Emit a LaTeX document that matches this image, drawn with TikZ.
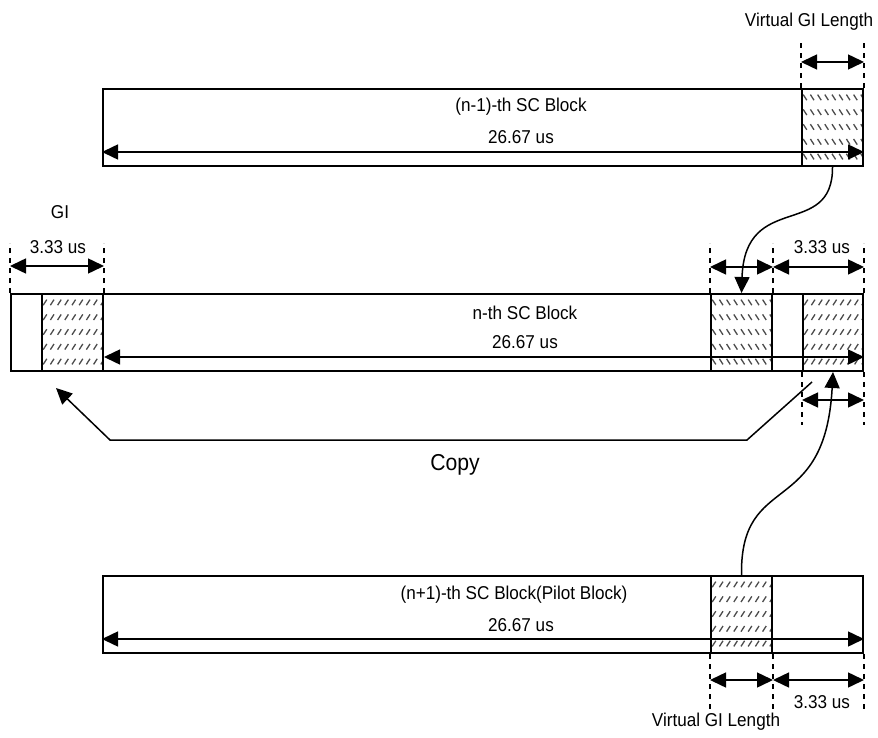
\documentclass[tikz,border=0pt]{standalone}
\usepackage{fontspec}
\setmainfont{Liberation Sans}[FakeStretch=0.92]
\usetikzlibrary{arrows.meta, positioning}

\begin{document}
\begin{tikzpicture}[
            x=0.5pt, y=-0.5pt,
            every node/.style={font=\fontsize{9.3}{11}\selectfont},
            block/.style={
                rectangle,
                draw,
                line width=1pt,
                anchor=north west,
                minimum height=38.5pt,
                inner sep=0pt
            },
            hatchfw/.style={
                block,
                minimum width=30.5pt,
                path picture={
                    \foreach \r in {0,...,4}
                        \foreach \c in {0,...,8}
                            \draw[black!70, line width=0.65pt]
                                ([shift={(\c*3.6pt+0.6pt,-\r*7.4pt-5.6pt)}]path picture bounding box.north west)
                                -- ++(1.8pt,2.8pt);
                }
            },
            hatchbk/.style={
                block,
                minimum width=30.5pt,
                path picture={
                    \foreach \r in {0,...,4}
                        \foreach \c in {0,...,8}
                            \draw[black!70, line width=0.65pt]
                                ([shift={(\c*3.6pt+2.4pt,-\r*7.4pt-5.6pt)}]path picture bounding box.north west)
                                -- ++(-1.8pt,2.8pt);
                }
            },
            txt/.style={inner sep=0pt},
            dim/.style={{Triangle[length=8pt,width=7.5pt]}-{Triangle[length=8pt,width=7.5pt]}, line width=0.75pt},
            ext/.style={dash pattern=on 2.5pt off 2.5pt, line width=0.8pt},
            arrow/.style={-{Triangle[length=8pt,width=7.5pt]}, line width=0.75pt}
        ]
        \useasboundingbox (0,0) rectangle (878,738);

        % Blocks
        \node[block, minimum width=380pt] (prev) at (102,88) {};
        \node[hatchbk] (prevgi) at (801,88) {};
        \node[block, minimum width=426pt] (cur) at (10,293) {};
        \node[hatchfw] (curgi) at (41,293) {};
        \node[hatchbk] (curvgi) at (710,293) {};
        \node[hatchfw, minimum width=30pt] (curtail) at (802,293) {};
        \node[block, minimum width=380pt] (next) at (102,575) {};
        \node[hatchfw] (nextvgi) at (710,575) {};

        % Texts
        \node[txt] (prevname) at (521,107) {(n-1)-th SC Block};
        \node[txt] (prevlen) at (521,137) {26.67 us};
        \node[txt] (curname) at (525,313) {n-th SC Block};
        \node[txt] (curlen) at (525,342) {26.67 us};
        \node[txt] (nextname) at (514,595) {(n+1)-th SC Block(Pilot Block)};
        \node[txt] (nextlen) at (521,625) {26.67 us};
        \node[txt] (topvgi) at (809,22) {Virtual GI Length};
        \node[txt] (gi) at (60,212) {GI};
        \node[txt] (gilen) at (58,247) {3.33 us};
        \node[txt] (taillen) at (822,247) {3.33 us};
        \node[txt] (nexttaillen) at (822,702) {3.33 us};
        \node[txt] (botvgi) at (716,722) {Virtual GI Length};
        \node[txt, font=\fontsize{11.5}{13}\selectfont] (copy) at (455,465) {Copy};

        % Extension lines
        \draw[ext] (prevgi.north west) -- ++(0,24pt);
        \draw[ext] (prevgi.north east) -- ++(0,24pt);
        \draw[ext] (cur.north west) -- ++(0,25pt);
        \draw[ext] (curgi.north east) -- ++(0,25pt);
        \draw[ext] (curvgi.north west) -- ++(0,25pt);
        \draw[ext] (curvgi.north east) -- ++(0,25pt);
        \draw[ext] (curtail.north east) -- ++(0,25pt);
        \draw[ext] (curtail.south west) -- ++(0,-26.5pt);
        \draw[ext] (curtail.south east) -- ++(0,-26.5pt);
        \draw[ext] (nextvgi.south west) -- ++(0,-27.5pt);
        \draw[ext] (nextvgi.south east) -- ++(0,-27.5pt);
        \draw[ext] (next.south east) -- ++(0,-27.5pt);

        % Dimension arrows
        \draw[dim] ([yshift=13pt]prevgi.north west) -- ([yshift=13pt]prevgi.north east);
        \draw[dim] ([yshift=13.5pt]cur.north west) -- ([yshift=13.5pt]curgi.north east);
        \draw[dim] ([yshift=13pt]curvgi.north west) -- ([yshift=13pt]curvgi.north east);
        \draw[dim] ([yshift=13pt]curvgi.north east) -- ([yshift=13pt]curtail.north east);
        \draw[dim] ([yshift=-14pt]curtail.south west) -- ([yshift=-14pt]curtail.south east);
        \draw[dim] ([yshift=-13pt]nextvgi.south west) -- ([yshift=-13pt]nextvgi.south east);
        \draw[dim] ([yshift=-13pt]nextvgi.south east) -- ([yshift=-13pt]next.south east);
        \draw[dim] ([yshift=7.5pt]prev.south west) -- ([yshift=7.5pt]prev.south east);
        \draw[dim] ([yshift=7.5pt]curgi.south east) -- ([yshift=7.5pt]cur.south east);
        \draw[dim] ([yshift=7.5pt]next.south west) -- ([yshift=7.5pt]next.south east);

        % Arrows
        \coordinate (copystart) at (812,382);
        \coordinate (copytip) at (56,388);
        \draw[arrow] (copystart) -- (747,440) -- (110,440) -- (copytip);
        \draw[arrow] (prevgi.south) .. controls (833,240) and (745,190) .. (curvgi.north);
        \draw[arrow] (nextvgi.north) .. controls (740,470) and (825,520) .. (curtail.south);

        \end{tikzpicture}
\end{document}
